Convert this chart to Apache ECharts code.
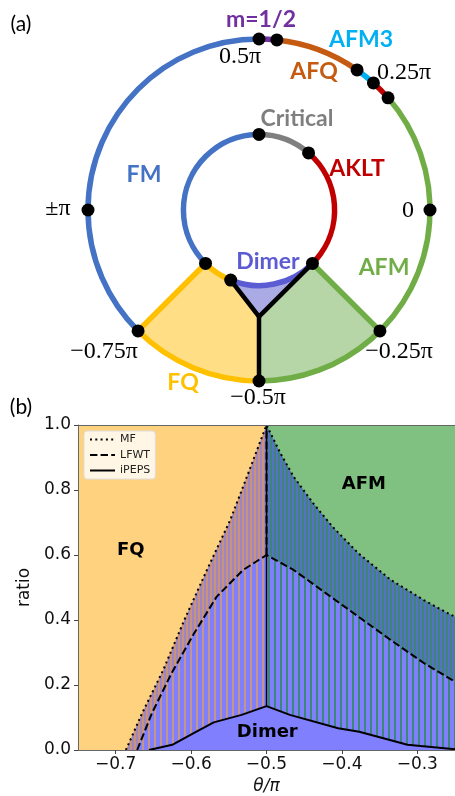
<!DOCTYPE html>
<html><head><meta charset="utf-8">
<script src="https://cdn.jsdelivr.net/npm/echarts@6/dist/echarts.min.js"></script>
<style>html,body{margin:0;padding:0;background:#fff}#c{width:455px;height:796px}</style>
</head><body><div id="c"></div>
<script>
// ================= DATA =================
// ---- panel (b) ----
const xTicks = [-0.7, -0.6, -0.5, -0.4, -0.3];
const yTicks = [0, 0.2, 0.4, 0.6, 0.8, 1.0];
const seriesNames = ['MF', 'LFWT', 'iPEPS'];
const boundaryTheta = -0.5;
const mfLeft = [[-0.6865,0],[-0.665,0.113],[-0.637,0.246],[-0.609,0.4],[-0.579,0.554],[-0.548,0.708],[-0.5225,0.862],[-0.5,1.0]];
const mfRight = [[-0.5,1.0],[-0.4815,0.913],[-0.464,0.841],[-0.438,0.759],[-0.4124,0.687],[-0.378,0.605],[-0.335,0.523],[-0.2915,0.4615],[-0.261,0.4225],[-0.25,0.41]];
const lfwtLeft = [[-0.6715,0],[-0.652,0.113],[-0.626,0.236],[-0.596,0.359],[-0.566,0.472],[-0.531,0.554],[-0.5,0.6]];
const lfwtRight = [[-0.5,0.6],[-0.464,0.554],[-0.421,0.482],[-0.378,0.41],[-0.335,0.338],[-0.291,0.267],[-0.25,0.21]];
const ipepsLeft = [[-0.656,0],[-0.625,0.016],[-0.596,0.053],[-0.570,0.085],[-0.533,0.108],[-0.5,0.135]];
const ipepsRight = [[-0.5,0.135],[-0.469,0.108],[-0.405,0.067],[-0.377,0.056],[-0.313,0.016],[-0.25,0.002]];
const phaseNamesB = ['FQ', 'AFM', 'Dimer'];
const phaseAnchorsB = [[-0.68,0.615],[-0.371,0.817],[-0.499,0.053]];

// ---- panel (a) ----  angles in degrees
const outerArcs = [[90,225],[84,90],[55,84],[48,55],[41,48],[-90,41],[-135,-90]];
const innerArcs = [[90,225],[-135,-112],[-112,-45],[-45,49],[49,90]];
const rOuter = 1, rInner = 0.442, rJunction = 0.624;
const outerDots = [90,84,55,48,41,0,-45,-90,-135,180];
const innerDots = [90,49,-45,-112,-135];
const labelTextsA = ['(a)','m=1/2','AFM3','AFQ','0.5π','0.25π','Critical','FM','AKLT','±π','0','Dimer','AFM','−0.75π','−0.25π','FQ','−0.5π','(b)'];

// ================= STYLE / LAYOUT =================
const outerColors = ['#4472C4','#7030A0','#C55A11','#00B0F0','#C00000','#70AD47','#FFC000'];
const innerColors = ['#4472C4','#FFC000','#5B5BD3','#C00000','#7F7F7F'];
const labelStyleA = [
 [21,24,'#000','r'],[261,20,'#7030A0','b'],[361,40,'#00B0F0','b'],[314,72,'#C55A11','b'],
 [240,57,'#000','m'],[404,73,'#000','m'],[297,119,'#7F7F7F','b'],[144,175,'#4472C4','b'],
 [357,169,'#C00000','b'],[58,209,'#000','m'],[408,211,'#000','m'],[268,262,'#5B5BD3','b'],
 [384,268,'#70AD47','b'],[104,352,'#000','m'],[399,352,'#000','m'],[183,383,'#FFC000','b'],
 [258,398,'#000','m'],[21,407,'#000','r']
];
const fonts = {b:'bold 23px Lato', m:'24px "Liberation Serif"', r:'21px Lato'};

function stripe(cols){
  const c=document.createElement('canvas'); c.width=cols.length; c.height=4;
  const g=c.getContext('2d');
  cols.forEach((col,i)=>{g.fillStyle=col; g.fillRect(i,0,1,4);});
  return {image:c, repeat:'repeat'};
}
const P='#8080ff';
const patLU = stripe(['#a086c0','#a086c0','#c8937a','#c8937a']);
const patLL = stripe([P,P,P,P,'#c4968a','#c4968a']);
const patRU = stripe(['#5473c2','#5473c2','#3f837a','#3f837a']);
const patRL = stripe([P,P,P,P,'#3d877a','#3d877a']);

const rev = a => a.slice().reverse();
const regions = [
  {pts:[[-0.75,0],[boundaryTheta,0],[boundaryTheta,1],[-0.75,1]], fill:'#FFD280'},
  {pts:[[boundaryTheta,0],[-0.25,0],[-0.25,1],[boundaryTheta,1]], fill:'#80C080'},
  {pts:mfLeft.concat(rev(lfwtLeft)), fill:patLU},
  {pts:lfwtLeft.concat(rev(ipepsLeft)), fill:patLL},
  {pts:mfRight.concat(rev(lfwtRight)), fill:patRU},
  {pts:lfwtRight.concat(rev(ipepsRight)), fill:patRL},
  {pts:ipepsLeft.concat(ipepsRight.slice(1),[[-0.25,0]]), fill:P}
];

const chart = echarts.init(document.getElementById('c'));
const series = [];
regions.forEach(rg=>{
  series.push({type:'custom', xAxisIndex:0, yAxisIndex:0, data:[[-0.5,0.5]], silent:true,
    renderItem:(params,api)=>({type:'polygon', shape:{points:rg.pts.map(p=>api.coord(p))}, style:{fill:rg.fill, stroke:null}})});
});
const lineBase = {type:'line', xAxisIndex:0, yAxisIndex:0, symbol:'none', showSymbol:false, silent:true, animation:false, itemStyle:{color:'#000', opacity:0}};
series.push(Object.assign({}, lineBase, {name:'MF', data:mfLeft.concat(mfRight.slice(1)), lineStyle:{color:'#000', width:2, type:[2,3.3]}}));
series.push(Object.assign({}, lineBase, {name:'LFWT', data:lfwtLeft.concat(lfwtRight.slice(1)), lineStyle:{color:'#000', width:2, type:[7.4,3.2]}}));
series.push(Object.assign({}, lineBase, {name:'LFWT-v', data:[[boundaryTheta,0.6],[boundaryTheta,1]], lineStyle:{color:'#000', width:2, type:[7.4,3.2]}}));
series.push(Object.assign({}, lineBase, {name:'iPEPS', data:ipepsLeft.concat(ipepsRight.slice(1)), lineStyle:{color:'#000', width:2, type:'solid'}}));
series.push(Object.assign({}, lineBase, {name:'iPEPS-v', data:[[boundaryTheta,0.135],[boundaryTheta,1]], lineStyle:{color:'#000', width:1.5, type:'solid'}}));
series.push({type:'custom', xAxisIndex:0, yAxisIndex:0, silent:true, z:5,
  data: phaseAnchorsB.map((p,i)=>[p[0],p[1],i]),
  renderItem:(params,api)=>{
    const pt=api.coord([api.value(0),api.value(1)]);
    return {type:'text', x:pt[0], y:pt[1], style:{text:phaseNamesB[api.value(2)], fill:'#000', font:'bold 18px "DejaVu Sans"', align:'center', verticalAlign:'middle'}};
  }});

const norm = a => ((a%360)+360)%360;
series.push({type:'custom', coordinateSystem:'polar', data:[[0.5,0]], silent:true, z:3,
  renderItem:(params,api)=>{
    const C = api.coord([0,0]);
    const pt = (r,a)=>api.coord([r,norm(a)]);
    const rpx = r => { const q=pt(r,0); return Math.hypot(q[0]-C[0], q[1]-C[1]); };
    const D = Math.PI/180;
    const ch = [];
    const arcTo = (r,a1,a2) => { const q=pt(r,a2); const R=rpx(r); return `A ${R} ${R} 0 ${Math.abs(a2-a1)>180?1:0} ${a2>a1?0:1} ${q[0]} ${q[1]}`; };
    const M = (r,a)=>{const q=pt(r,a); return `M ${q[0]} ${q[1]}`;};
    const L = (r,a)=>{const q=pt(r,a); return `L ${q[0]} ${q[1]}`;};
    ch.push({type:'path', shape:{pathData: M(rOuter,-135)+arcTo(rOuter,-135,-90)+L(rJunction,-90)+L(rInner,-112)+arcTo(rInner,-112,-135)+' Z'}, style:{fill:'#FFDE85', stroke:null}});
    ch.push({type:'path', shape:{pathData: M(rOuter,-90)+arcTo(rOuter,-90,-45)+L(rInner,-45)+L(rJunction,-90)+' Z'}, style:{fill:'#B7D6A7', stroke:null}});
    ch.push({type:'path', shape:{pathData: M(rInner,-112)+arcTo(rInner,-112,-45)+L(rJunction,-90)+' Z'}, style:{fill:'#AAAAE4', stroke:null}});
    const arcEl = (r,a1,a2,col,w)=>({type:'arc', shape:{cx:C[0], cy:C[1], r:rpx(r), startAngle:-a2*D, endAngle:-a1*D, clockwise:true}, style:{stroke:col, lineWidth:w, fill:null}});
    outerArcs.forEach((a,i)=>ch.push(arcEl(rOuter,a[0],a[1],outerColors[i],5.5)));
    innerArcs.forEach((a,i)=>ch.push(arcEl(rInner,a[0],a[1],innerColors[i],5.5)));
    const seg = (r1,a1,r2,a2,col,w)=>{const p1=pt(r1,a1),p2=pt(r2,a2); return {type:'line', shape:{x1:p1[0],y1:p1[1],x2:p2[0],y2:p2[1]}, style:{stroke:col, lineWidth:w}};};
    ch.push(seg(rInner,-135,rOuter,-135,'#FFC000',5.5));
    ch.push(seg(rInner,-45,rOuter,-45,'#70AD47',5.5));
    ch.push(seg(rInner,-112,rJunction,-90,'#000',4.5));
    ch.push(seg(rInner,-45,rJunction,-90,'#000',4.5));
    ch.push(seg(rJunction,-90,rOuter,-90,'#000',4.5));
    return {type:'group', children:ch};
  }});
series.push({type:'scatter', coordinateSystem:'polar', symbol:'circle', symbolSize:13, silent:true, z:6,
  itemStyle:{color:'#000', opacity:1},
  data: outerDots.map(a=>[rOuter,norm(a)]).concat(innerDots.map(a=>[rInner,norm(a)]))});

const graphics = labelTextsA.map((t,i)=>{
  const s=labelStyleA[i];
  return {type:'text', x:s[0], y:s[1], z:100, style:{text:t, fill:s[2], font:fonts[s[3]], align:'center', verticalAlign:'middle'}};
});

const fmt = v => v.toFixed(1).replace('-', '\u2212');
chart.setOption({
  animation:false,
  backgroundColor:'#fff',
  grid:[{left:78, top:425, width:386, height:325, containLabel:false}],
  polar:{center:[259,210], radius:171},
  angleAxis:{type:'value', min:0, max:360, startAngle:0, clockwise:false, show:false, axisLine:{show:false}, splitLine:{show:false}, axisTick:{show:false}, axisLabel:{show:false}},
  radiusAxis:{type:'value', min:0, max:1, show:false, axisLine:{show:false}, splitLine:{show:false}, axisTick:{show:false}, axisLabel:{show:false}},
  xAxis:[
    {type:'value', gridIndex:0, min:-0.75, max:-0.25, z:10,
     axisLine:{show:true, onZero:false, lineStyle:{color:'#666', width:1}},
     axisTick:{show:true, customValues:xTicks, length:4, lineStyle:{color:'#444'}},
     axisLabel:{show:true, customValues:xTicks, formatter:fmt, fontSize:17, fontFamily:'DejaVu Sans', color:'#111', margin:6},
     splitLine:{show:false},
     name:'θ/π', nameLocation:'middle', nameGap:28,
     nameTextStyle:{fontSize:17, fontStyle:'italic', fontFamily:'DejaVu Sans', color:'#111'}},
    {type:'value', gridIndex:0, min:-0.75, max:-0.25, position:'top', z:10,
     axisLine:{show:true, onZero:false, lineStyle:{color:'#666', width:1}},
     axisTick:{show:false}, axisLabel:{show:false}, splitLine:{show:false}}
  ],
  yAxis:[
    {type:'value', gridIndex:0, min:0, max:1, interval:0.2, z:10,
     axisLine:{show:true, onZero:false, lineStyle:{color:'#666', width:1}},
     axisTick:{show:true, length:4, lineStyle:{color:'#444'}},
     axisLabel:{formatter:fmt, fontSize:17, fontFamily:'DejaVu Sans', color:'#111', margin:7},
     splitLine:{show:false},
     name:'ratio', nameLocation:'middle', nameGap:37, nameRotate:90,
     nameTextStyle:{fontSize:17, fontFamily:'DejaVu Sans', color:'#111'}}
  ],
  legend:{data:seriesNames, orient:'vertical', left:84, top:431, itemWidth:25, itemHeight:12, itemGap:4.5,
    padding:[3,5,3,5], backgroundColor:'rgba(255,255,255,0.8)', borderColor:'#ddd', borderWidth:1, borderRadius:3,
    itemStyle:{opacity:0}, lineStyle:{color:'#000'},
    textStyle:{fontSize:11, fontFamily:'DejaVu Sans', color:'#222'}, selectedMode:false},
  graphic:graphics,
  series:series
});
</script></body></html>
